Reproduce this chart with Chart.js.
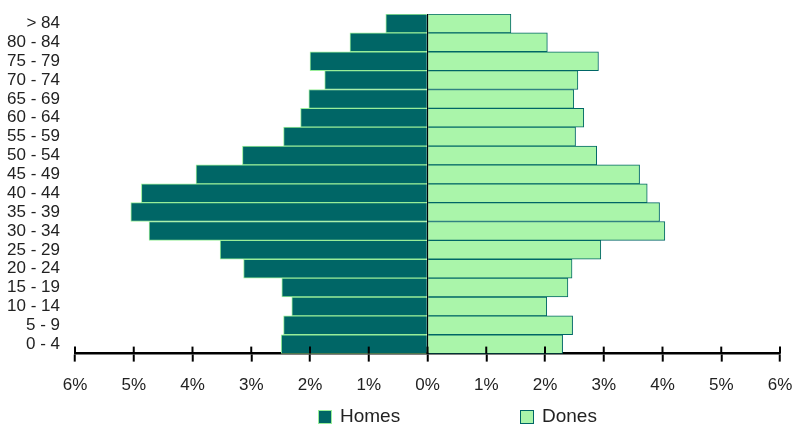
<!DOCTYPE html>
<html>
<head>
<meta charset="utf-8">
<script src="https://cdn.jsdelivr.net/npm/chart.js@4"></script>
<style>
  html, body { margin: 0; padding: 0; background: #fff; }
  #wrap { width: 792px; height: 425px; }
</style>
</head>
<body>
<div id="wrap"><canvas id="pyramid"></canvas></div>
<script>
// age groups, top to bottom
const ageGroups = ['> 84', '80 - 84', '75 - 79', '70 - 74', '65 - 69', '60 - 64', '55 - 59', '50 - 54', '45 - 49',
                   '40 - 44', '35 - 39', '30 - 34', '25 - 29', '20 - 24', '15 - 19', '10 - 14', '5 - 9', '0 - 4'];
// % of population
const homes = [0.71, 1.32, 2.00, 1.75, 2.02, 2.16, 2.45, 3.15, 3.94, 4.87, 5.05, 4.74, 3.53, 3.13, 2.48, 2.31, 2.45, 2.49];
const dones = [1.42, 2.04, 2.91, 2.56, 2.49, 2.66, 2.52, 2.88, 3.61, 3.74, 3.95, 4.04, 2.95, 2.46, 2.39, 2.03, 2.47, 2.30];
const xMin = -6;
const xMax = 6;

const FONT = '"Liberation Sans", Arial, sans-serif';

// tick marks that cross the axis line (upper half)
const crossTicks = {
    id: 'crossTicks',
    afterDraw(chart) {
        const sc = chart.scales.x;
        const ctx = chart.ctx;
        ctx.save();
        ctx.strokeStyle = '#000';
        ctx.lineWidth = 2;
        sc.ticks.forEach((t, i) => {
            const px = sc.getPixelForTick(i);
            ctx.beginPath();
            ctx.moveTo(px, sc.top - 7);
            ctx.lineTo(px, sc.top);
            ctx.stroke();
        });
        ctx.restore();
    }
};

// legend row under the axis
const bottomLegend = {
    id: 'bottomLegend',
    afterDraw(chart) {
        const ctx = chart.ctx;
        const xs = [318, 520];
        ctx.save();
        ctx.font = '19px ' + FONT;
        ctx.textBaseline = 'middle';
        chart.data.datasets.forEach((ds, i) => {
            ctx.fillStyle = ds.backgroundColor;
            ctx.fillRect(xs[i], 410, 14, 14);
            ctx.strokeStyle = ds.borderColor;
            ctx.lineWidth = 1;
            ctx.strokeRect(xs[i] + 0.5, 410.5, 13, 13);
            ctx.fillStyle = '#222';
            ctx.fillText(ds.label, xs[i] + 22, 417);
        });
        ctx.restore();
    }
};

let ctx = document.getElementById('pyramid').getContext('2d');

let chart = new Chart(ctx, {
    type: 'bar',
    data: {
        labels: ageGroups,
        datasets: [{
            label: 'Homes',
            data: homes.map(v => -v),
            backgroundColor: '#006666',
            borderColor: '#99ee99',
            borderWidth: 1,
            categoryPercentage: 1,
            barPercentage: 1
        }, {
            label: 'Dones',
            data: dones,
            backgroundColor: '#aaf5aa',
            borderColor: '#006666',
            borderWidth: 1,
            categoryPercentage: 1,
            barPercentage: 1
        }]
    },
    options: {
        indexAxis: 'y',
        responsive: true,
        maintainAspectRatio: false,
        animation: false,
        layout: { padding: { top: 14, bottom: 15, left: 0, right: 0 } },
        plugins: {
            legend: { display: false },
            tooltip: { enabled: false }
        },
        scales: {
            x: {
                min: xMin,
                max: xMax,
                stacked: true,
                z: 1,
                border: { display: true, color: '#000', width: 2.5 },
                grid: {
                    drawOnChartArea: true,
                    color: c => (c.tick && c.tick.value === 0) ? '#000' : 'rgba(0,0,0,0)',
                    lineWidth: 1.5,
                    tickColor: '#000',
                    tickLength: 8,
                    tickWidth: 2
                },
                ticks: {
                    stepSize: 1,
                    autoSkip: false,
                    maxRotation: 0,
                    padding: 14,
                    color: '#222',
                    font: { family: FONT, size: 17 },
                    callback: v => Math.abs(v) + '%'
                },
                afterFit(scale) { scale.paddingLeft = 0; scale.paddingRight = 12; }
            },
            y: {
                stacked: true,
                grid: { display: false, drawTicks: false },
                border: { display: false },
                ticks: {
                    autoSkip: false,
                    padding: 15,
                    color: '#222',
                    font: { family: FONT, size: 17 }
                },
                afterFit(scale) { scale.width = 75; scale.paddingTop = 0; scale.paddingBottom = 0; }
            }
        }
    },
    plugins: [crossTicks, bottomLegend]
});
</script>
</body>
</html>
